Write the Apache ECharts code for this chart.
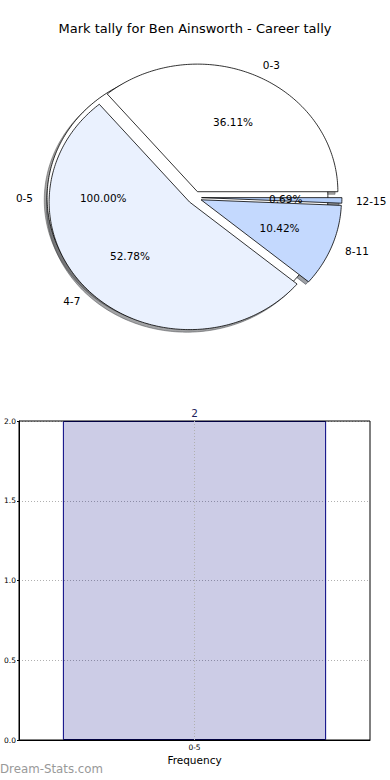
<!DOCTYPE html>
<html>
<head>
<meta charset="utf-8">
<script src="https://cdn.jsdelivr.net/npm/echarts@6/dist/echarts.min.js"></script>
<style>
html,body{margin:0;padding:0;background:#fff;}
#chart{width:390px;height:780px;}
</style>
</head>
<body>
<div id="chart"></div>
<script>
// ---- data ----
const titleText = 'Mark tally for Ben Ainsworth - Career tally';
const pieCategories = ['0-3', '4-7', '8-11', '12-15'];
const pieCounts = [52, 76, 15, 1];
const pieColors = ['#ffffff', '#eaf1fe', '#c4d9fe', '#b3cdf8'];
const barCategories = ['0-5'];
const barCounts = [2];
const barColors = ['#ffffff'];
const yTicks = [0, 0.5, 1, 1.5, 2];

// ---- pie geometry (matplotlib-like: start angle 0, counter-clockwise, explode) ----
const EXPLODE = 0.05;
function buildWedges(counts, labels, colors) {
  const total = counts.reduce((a, b) => a + b, 0);
  let t = 0;
  return counts.map((c, i) => {
    const t1 = t, t2 = t + c / total * Math.PI * 2;
    t = t2;
    const mid = (t1 + t2) / 2;
    return {
      t1, t2, mid,
      cx: EXPLODE * Math.cos(mid), cy: EXPLODE * Math.sin(mid),
      label: labels[i], pct: (c / total * 100).toFixed(2) + '%',
      color: colors[i]
    };
  });
}
const bgWedges = buildWedges(barCounts, barCategories, barColors);
const mainWedges = buildWedges(pieCounts, pieCategories, pieColors);
const allWedges = bgWedges.concat(mainWedges);

function wedgePoints(api, w, dx, dy) {
  const full = (w.t2 - w.t1) >= Math.PI * 2 - 1e-9;
  const pts = [];
  if (!full) pts.push(api.coord([w.cx + dx, w.cy + dy]));
  const n = Math.max(2, Math.ceil((w.t2 - w.t1) / (Math.PI / 180)));
  for (let k = 0; k <= n; k++) {
    const a = w.t1 + (w.t2 - w.t1) * k / n;
    pts.push(api.coord([w.cx + dx + Math.cos(a), w.cy + dy + Math.sin(a)]));
  }
  return pts;
}
function shadowColor(hex) {
  const r = parseInt(hex.slice(1, 3), 16), g = parseInt(hex.slice(3, 5), 16), b = parseInt(hex.slice(5, 7), 16);
  return 'rgba(' + Math.round(r * 0.3) + ',' + Math.round(g * 0.3) + ',' + Math.round(b * 0.3) + ',0.5)';
}

const FONT = '"DejaVu Sans", sans-serif';
const chart = echarts.init(document.getElementById('chart'), null, { renderer: 'svg' });

function wedgeSeries(wedges, z, isShadow) {
  return {
    type: 'custom', xAxisIndex: 0, yAxisIndex: 0, z: z, clip: false, silent: true,
    data: wedges.map(w => [w.cx, w.cy]),
    renderItem: function (params, api) {
      const w = wedges[params.dataIndex];
      if (isShadow) {
        const c = shadowColor(w.color);
        return { type: 'polygon', shape: { points: wedgePoints(api, w, -0.02, -0.02) },
          style: { fill: c, stroke: c, lineWidth: 1 } };
      }
      return { type: 'polygon', shape: { points: wedgePoints(api, w, 0, 0) },
        style: { fill: w.color, stroke: '#000', lineWidth: 0.8 } };
    }
  };
}

const option = {
  animation: false,
  backgroundColor: '#ffffff',
  title: {
    text: titleText, left: 'center', top: 22, padding: 0,
    textStyle: { fontFamily: FONT, fontSize: 13, fontWeight: 'normal', color: '#000' }
  },
  grid: [
    { left: 19, top: 38, width: 351, height: 319, show: false },
    { left: 19, top: 421, width: 351, height: 319, show: true, borderColor: '#000', borderWidth: 1, backgroundColor: 'transparent', z: 3 }
  ],
  xAxis: [
    { gridIndex: 0, type: 'value', min: -1.25, max: 1.25, show: false },
    {
      gridIndex: 1, type: 'category', data: barCategories,
      axisLine: { lineStyle: { color: '#000' } },
      axisTick: { show: false },
      axisLabel: { fontFamily: FONT, fontSize: 7.5, color: '#000', margin: 3 },
      name: 'Frequency', nameLocation: 'middle', nameGap: 14,
      nameTextStyle: { fontFamily: FONT, fontSize: 10.5, color: '#000' }
    }
  ],
  yAxis: [
    { gridIndex: 0, type: 'value', min: -1.25, max: 1.25, show: false },
    {
      gridIndex: 1, type: 'value', min: yTicks[0], max: yTicks[yTicks.length - 1], interval: 0.5,
      axisLine: { show: true, lineStyle: { color: '#000' } },
      axisTick: { show: true, length: 2, lineStyle: { color: '#000' } },
      axisLabel: { fontFamily: FONT, fontSize: 7.5, color: '#000', margin: 3, formatter: v => v.toFixed(1) },
      splitLine: { show: true, lineStyle: { color: '#b0b0b0', type: [1, 2], width: 1 } }
    }
  ],
  series: [
    wedgeSeries(allWedges, 1, true),
    wedgeSeries(bgWedges, 2, false),
    wedgeSeries(mainWedges, 3, false),
    {
      type: 'custom', xAxisIndex: 0, yAxisIndex: 0, z: 5, clip: false, silent: true,
      data: allWedges.map(w => [w.cx, w.cy]),
      renderItem: function (params, api) {
        const w = allWedges[params.dataIndex];
        const lx = w.cx + 1.1 * Math.cos(w.mid), ly = w.cy + 1.1 * Math.sin(w.mid);
        const px = w.cx + 0.6 * Math.cos(w.mid), py = w.cy + 0.6 * Math.sin(w.mid);
        const lp = api.coord([lx, ly]), pp = api.coord([px, py]);
        return {
          type: 'group', children: [
            { type: 'text', x: lp[0], y: lp[1], style: { text: w.label, fill: '#000', font: '10.5px ' + FONT, align: lx > 0 ? 'left' : 'right', verticalAlign: 'middle' } },
            { type: 'text', x: pp[0], y: pp[1], style: { text: w.pct, fill: '#000', font: '10.5px ' + FONT, align: 'center', verticalAlign: 'middle' } }
          ]
        };
      }
    },
    {
      type: 'bar', xAxisIndex: 1, yAxisIndex: 1, data: barCounts, barWidth: '75%',
      itemStyle: { color: 'rgba(0,0,128,0.2)', borderColor: '#000080', borderWidth: 1 },
      label: { show: true, position: 'top', distance: 3, fontFamily: FONT, fontSize: 10.5, color: '#1f1f5c' },
      markLine: {
        silent: true, symbol: 'none', label: { show: false },
        lineStyle: { color: '#b0b0b0', type: [1, 2], width: 1 },
        data: barCategories.map(c => ({ xAxis: c }))
      }
    }
  ],
  graphic: [
    { type: 'text', left: 0, top: 763, style: { text: 'Dream-Stats.com', fill: '#999999', font: '11.8px ' + FONT } }
  ]
};
chart.setOption(option);
</script>
</body>
</html>
